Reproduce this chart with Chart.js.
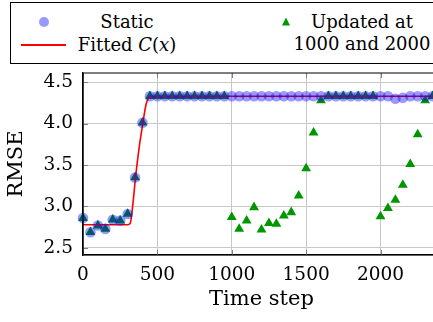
<!DOCTYPE html>
<html>
<head>
<meta charset="utf-8">
<script src="https://cdn.jsdelivr.net/npm/chart.js@4.4.1/dist/chart.umd.min.js"></script>
<style>
  html, body { margin: 0; padding: 0; background: #fff; overflow: hidden; width: 433px; height: 322px; }
  #wrap { position: relative; width: 450px; height: 322px; }
  #c { position: absolute; left: 0; top: 0; }
  #legend { position: absolute; left: 10px; top: 2px; width: 600px; height: 62px; border: 1px solid #000; box-sizing: border-box; background: #fff;
            font-family: "DejaVu Serif", serif; font-size: 18px; color: #000; }
  .lt { position: absolute; transform: translate(-50%, -50%); white-space: nowrap; line-height: 1; }
  .mk-circle { position: absolute; width: 10px; height: 10px; border-radius: 50%; background: rgba(0,0,255,0.4); transform: translate(-50%, -50%); }
  .mk-tri { position: absolute; width: 0; height: 0; border-left: 4.5px solid transparent; border-right: 4.5px solid transparent; border-bottom: 8px solid rgb(0,150,0); transform: translate(-50%, -55%); }
  .mk-line { position: absolute; height: 2px; background: #ff0000; transform: translateY(-50%); }
</style>
</head>
<body>
<div id="wrap">
  <canvas id="c" width="450" height="322"></canvas>
  <div id="legend"></div>
</div>
<script>
// ---- data ----
const timeSteps = [0,50,100,150,200,250,300,350,400,450,500,550,600,650,700,750,800,850,900,950,
  1000,1050,1100,1150,1200,1250,1300,1350,1400,1450,1500,1550,1600,1650,1700,1750,1800,1850,1900,1950,
  2000,2050,2100,2150,2200,2250,2300,2350];
const staticRMSE = [2.86,2.69,2.77,2.73,2.84,2.83,2.91,3.35,4.01,4.33,4.33,4.33,4.33,4.33,4.33,4.33,4.33,4.33,4.33,4.33,
  4.33,4.33,4.33,4.33,4.33,4.33,4.33,4.33,4.33,4.33,4.33,4.33,4.33,4.33,4.33,4.33,4.33,4.33,4.33,4.33,
  4.33,4.33,4.30,4.31,4.33,4.33,4.33,4.33];
const updatedRMSE = [2.86,2.69,2.77,2.73,2.84,2.83,2.91,3.35,4.01,4.33,4.33,4.33,4.33,4.33,4.33,4.33,4.33,4.33,4.33,4.33,
  2.87,2.73,2.83,2.99,2.72,2.80,2.79,2.89,2.93,3.13,3.46,3.89,4.28,4.33,4.33,4.33,4.33,4.33,4.33,4.33,
  2.88,2.98,3.08,3.26,3.51,3.87,4.28,4.33];
const fitX = [0,300,318,336,353,376,403,425,460,500,2400];
const fitY = [2.78,2.78,2.80,3.04,3.35,3.69,4.01,4.24,4.33,4.33,4.33];
const xTicks = [0,500,1000,1500,2000];
const yTicks = [2.5,3.0,3.5,4.0,4.5];
const seriesLabels = ['Static', 'Updated at', '1000 and 2000', 'Fitted '];

// ---- legend (HTML) ----
const lg = document.getElementById('legend');
lg.innerHTML =
  '<div class="mk-circle" style="left:33px;top:19px"></div>' +
  '<div class="lt" style="left:116px;top:18.5px">' + seriesLabels[0] + '</div>' +
  '<div class="mk-line" style="left:10px;top:42px;width:45px"></div>' +
  '<div class="lt" style="left:116px;top:42px">' + seriesLabels[3] + '<i>C</i>(<i>x</i>)</div>' +
  '<div class="mk-tri" style="left:275px;top:19px"></div>' +
  '<div class="lt" style="left:351px;top:18.5px">' + seriesLabels[1] + '</div>' +
  '<div class="lt" style="left:351px;top:41px">' + seriesLabels[2] + '</div>';

// ---- chart ----
Chart.defaults.color = '#000';
Chart.defaults.font.family = '"DejaVu Serif", serif';

const pts = (xs, ys) => xs.map((x, i) => ({ x: x, y: ys[i] }));

const frame = {
  id: 'frame',
  afterDatasetsDraw(chart) {
    const { ctx, chartArea: a, scales } = chart;
    ctx.save();
    ctx.strokeStyle = '#7f7f7f';
    ctx.lineWidth = 1;
    ctx.beginPath();
    xTicks.forEach(v => {
      const px = Math.round(scales.x.getPixelForValue(v)) + 0.5;
      ctx.moveTo(px, a.bottom); ctx.lineTo(px, a.bottom - 5);
      ctx.moveTo(px, a.top); ctx.lineTo(px, a.top + 5);
    });
    yTicks.forEach(v => {
      const py = Math.round(scales.y.getPixelForValue(v)) + 0.5;
      ctx.moveTo(a.left, py); ctx.lineTo(a.left + 5, py);
      ctx.moveTo(a.right, py); ctx.lineTo(a.right - 5, py);
    });
    ctx.stroke();
    ctx.strokeStyle = '#000';
    ctx.lineWidth = 1.2;
    ctx.beginPath();
    ctx.moveTo(a.left, a.top); ctx.lineTo(a.right, a.top); ctx.lineTo(a.right, a.bottom);
    ctx.moveTo(a.left, a.top); ctx.lineTo(a.left, a.bottom); ctx.lineTo(a.right, a.bottom);
    ctx.stroke();
    ctx.restore();
  }
};

new Chart(document.getElementById('c'), {
  type: 'scatter',
  data: {
    datasets: [
      { label: 'Static', data: pts(timeSteps, staticRMSE), pointStyle: 'circle', pointRadius: 5.3,
        backgroundColor: 'rgba(0,0,255,0.4)', borderWidth: 0, order: 0, clip: false },
      { label: 'Fitted C(x)', type: 'line', data: pts(fitX, fitY), borderColor: '#ff0000', borderWidth: 1.6,
        pointRadius: 0, cubicInterpolationMode: 'monotone', fill: false, order: 1 },
      { label: 'Updated at 1000 and 2000', data: pts(timeSteps, updatedRMSE), pointStyle: 'triangle', pointRadius: 5.7,
        backgroundColor: 'rgb(0,150,0)', borderWidth: 0, order: 2, clip: false }
    ]
  },
  options: {
    responsive: false,
    animation: false,
    events: [],
    layout: { padding: { top: 73, right: 10, left: 0, bottom: 0 } },
    plugins: { legend: { display: false }, tooltip: { enabled: false } },
    scales: {
      x: {
        type: 'linear', min: 0, max: 2400,
        afterBuildTicks: s => { s.ticks = xTicks.map(v => ({ value: v })); },
        afterFit: s => { s.height = 67; },
        ticks: { font: { size: 18.5 }, padding: 9, maxRotation: 0, callback: v => String(v) },
        grid: { color: 'rgb(200,200,200)', lineWidth: 1, drawTicks: false },
        border: { color: '#000', width: 1.2 },
        title: { display: true, text: 'Time step', font: { size: 21 }, padding: { top: 0, bottom: 10 } }
      },
      y: {
        type: 'linear', min: 2.415, max: 4.61,
        afterBuildTicks: s => { s.ticks = yTicks.map(v => ({ value: v })); },
        afterFit: s => { s.width = 83; },
        ticks: { font: { size: 18.5 }, padding: 10, callback: v => Number(v).toFixed(1) },
        grid: { color: 'rgb(200,200,200)', lineWidth: 1, drawTicks: false },
        border: { color: '#000', width: 1.2 },
        title: { display: true, text: 'RMSE', font: { size: 21 }, padding: { top: 4, bottom: 0 } }
      }
    }
  },
  plugins: [frame]
});
</script>
</body>
</html>
